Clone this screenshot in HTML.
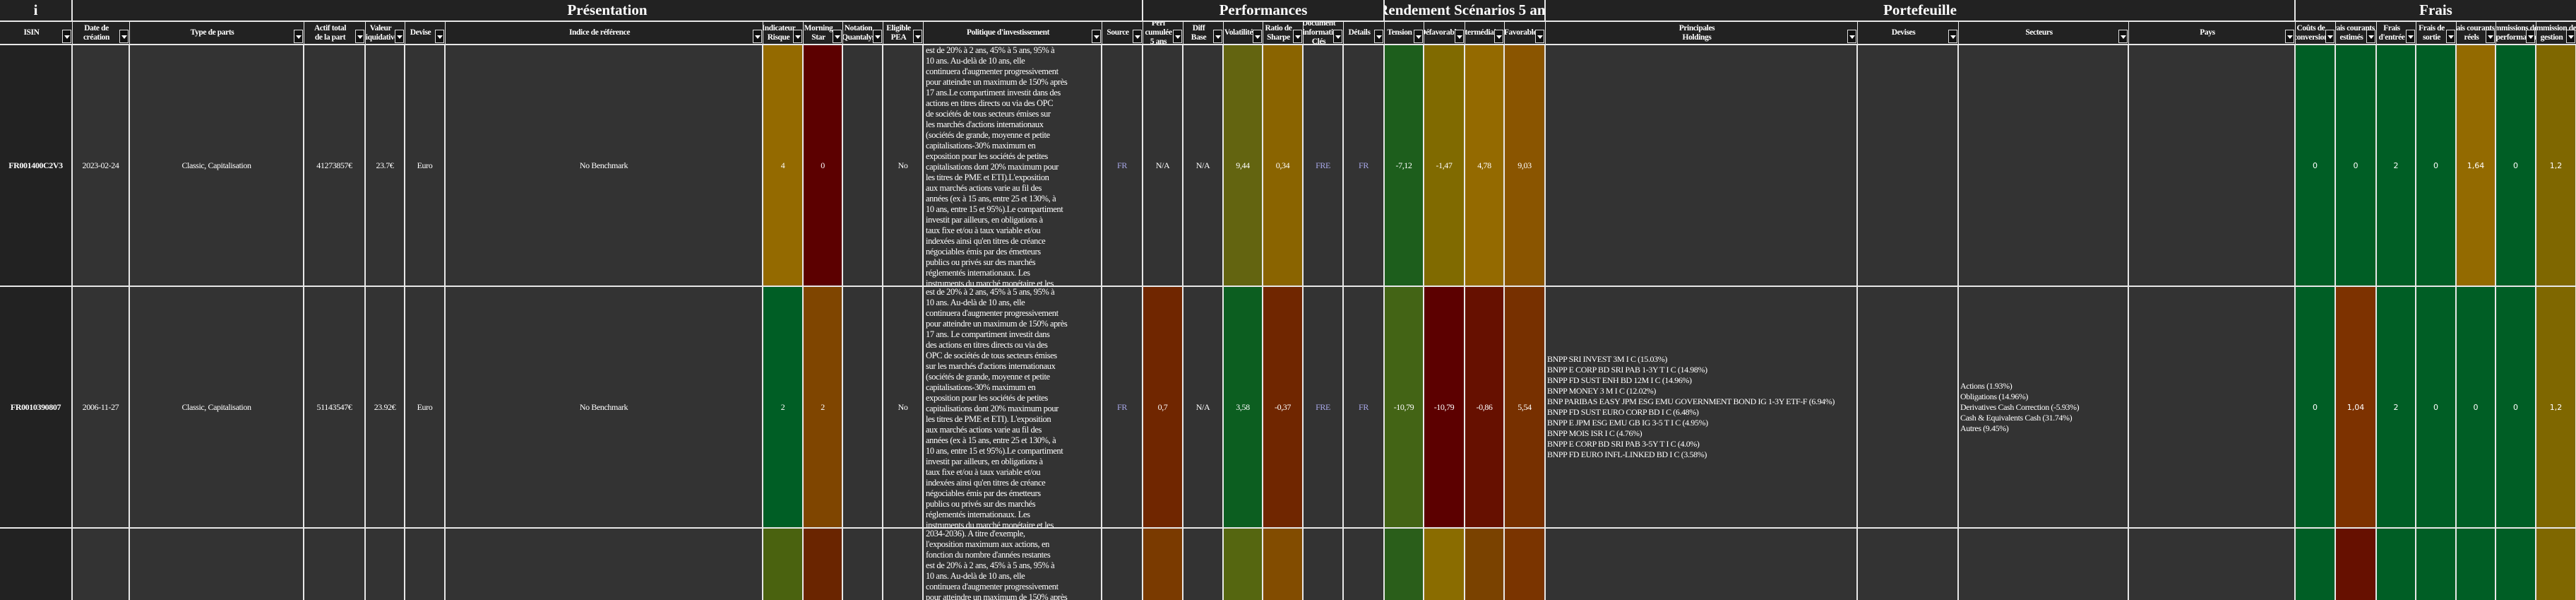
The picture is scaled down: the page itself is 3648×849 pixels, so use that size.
<!DOCTYPE html>
<html><head><meta charset="utf-8"><style>
html,body{margin:0;padding:0;background:#e8e8e8;width:3648px;height:849px;overflow:hidden}
#grid{position:relative;width:3648px;height:849px;background:#e8e8e8;font-family:"Liberation Serif",serif;color:#fff}
.c{position:absolute;box-sizing:border-box;overflow:hidden;display:flex;align-items:center;justify-content:center;text-align:center;font-size:12px;letter-spacing:-0.4px}
.g{font-size:21px;font-weight:bold;background:#222;letter-spacing:0;white-space:nowrap}
.h{background:#222;font-weight:bold;font-size:11.5px;line-height:13px;padding:0 14px 0 1px}
.dd{position:absolute;right:1px;bottom:1px;width:13px;height:19px;background:#111;border:1px solid #ddd;box-sizing:border-box}
.dd:after{content:"";position:absolute;left:2px;top:7px;border-left:4px solid transparent;border-right:4px solid transparent;border-top:5px solid #fff}
.pol{display:block;text-align:left;white-space:pre;line-height:15px;padding-left:3px;font-size:12.5px}
.list{display:flex;justify-content:flex-start;text-align:left;white-space:pre;line-height:15px;padding-left:2px}
.sans{font-family:"DejaVu Sans",sans-serif;font-size:11px;letter-spacing:0}
.lav{color:#a8a8e8}
</style></head><body>
<div id="grid"></div>
<script>
const edges=[0,102,183,430,517,573,630,1080,1137,1193,1250,1307,1560,1618,1675,1732,1788,1845,1902,1960,2016,2074,2130,2188,2630,2773,3014,3250,3307,3365,3421,3478,3534,3591,3648];
const groups=[["i",0,1],["Présentation",1,13],["Performances",13,19],["Rendement Scénarios 5 ans",19,23],["Portefeuille",23,27],["Frais",27,34]];
const headers=["ISIN","Date de\ncréation","Type de parts","Actif total\nde la part","Valeur\nliquidative","Devise","Indice de référence","Indicateur\nRisque","Morning\nStar","Notation\nQuantalys","Eligible\nPEA","Politique d'investissement","Source","Perf\ncumulée\n5 ans","Diff\nBase","Volatilité","Ratio de\nSharpe","Document\nd'information\nClés","Détails","Tension","Défavorable","Intermédiaire","Favorable","Principales\nHoldings","Devises","Secteurs","Pays","Coûts de\nconversion","Frais courants\nestimés","Frais\nd'entrée","Frais de\nsortie","Frais courants\nréels","Commissions de\nsurperformance","Commission de\ngestion"];
const rowTops=[64,406,748];
const rowBottoms=[404,746,849];
const pol1="est de 20% à 2 ans, 45% à 5 ans, 95% à\n10 ans. Au-delà de 10 ans, elle\ncontinuera d'augmenter progressivement\npour atteindre un maximum de 150% après\n17 ans.Le compartiment investit dans des\nactions en titres directs ou via des OPC\nde sociétés de tous secteurs émises sur\nles marchés d'actions internationaux\n(sociétés de grande, moyenne et petite\ncapitalisations-30% maximum en\nexposition pour les sociétés de petites\ncapitalisations dont 20% maximum pour\nles titres de PME et ETI).L'exposition\naux marchés actions varie au fil des\nannées (ex à 15 ans, entre 25 et 130%, à\n10 ans, entre 15 et 95%).Le compartiment\ninvestit par ailleurs, en obligations à\ntaux fixe et/ou à taux variable et/ou\nindexées ainsi qu'en titres de créance\nnégociables émis par des émetteurs\npublics ou privés sur des marchés\nréglementés internationaux. Les\ninstruments du marché monétaire et les";
const pol2="est de 20% à 2 ans, 45% à 5 ans, 95% à\n10 ans. Au-delà de 10 ans, elle\ncontinuera d'augmenter progressivement\npour atteindre un maximum de 150% après\n17 ans. Le compartiment investit dans\ndes actions en titres directs ou via des\nOPC de sociétés de tous secteurs émises\nsur les marchés d'actions internationaux\n(sociétés de grande, moyenne et petite\ncapitalisations-30% maximum en\nexposition pour les sociétés de petites\ncapitalisations dont 20% maximum pour\nles titres de PME et ETI). L'exposition\naux marchés actions varie au fil des\nannées (ex à 15 ans, entre 25 et 130%, à\n10 ans, entre 15 et 95%).Le compartiment\ninvestit par ailleurs, en obligations à\ntaux fixe et/ou à taux variable et/ou\nindexées ainsi qu'en titres de créance\nnégociables émis par des émetteurs\npublics ou privés sur des marchés\nréglementés internationaux. Les\ninstruments du marché monétaire et les";
const pol3="2034-2036). A titre d'exemple,\nl'exposition maximum aux actions, en\nfonction du nombre d'années restantes\nest de 20% à 2 ans, 45% à 5 ans, 95% à\n10 ans. Au-delà de 10 ans, elle\ncontinuera d'augmenter progressivement\npour atteindre un maximum de 150% après";
const holdings2="BNPP SRI INVEST 3M I C (15.03%)\nBNPP E CORP BD SRI PAB 1-3Y T I C (14.98%)\nBNPP FD SUST ENH BD 12M I C (14.96%)\nBNPP MONEY 3 M I C (12.02%)\nBNP PARIBAS EASY JPM ESG EMU GOVERNMENT BOND IG 1-3Y ETF-F (6.94%)\nBNPP FD SUST EURO CORP BD I C (6.48%)\nBNPP E JPM ESG EMU GB IG 3-5 T I C (4.95%)\nBNPP MOIS ISR I C (4.76%)\nBNPP E CORP BD SRI PAB 3-5Y T I C (4.0%)\nBNPP FD EURO INFL-LINKED BD I C (3.58%)";
const secteurs2="Actions (1.93%)\nObligations (14.96%)\nDerivatives Cash Correction (-5.93%)\nCash & Equivalents Cash (31.74%)\nAutres (9.45%)";
const row1=["FR001400C2V3","2023-02-24","Classic, Capitalisation","41273857€","23.7€","Euro","No Benchmark","4","0","","No",pol1,"FR","N/A","N/A","9,44","0,34","FRE","FR","-7,12","-1,47","4,78","9,03","","","","","0","0","2","0","1,64","0","1,2"];
const row2=["FR0010390807","2006-11-27","Classic, Capitalisation","51143547€","23.92€","Euro","No Benchmark","2","2","","No",pol2,"FR","0,7","N/A","3,58","-0,37","FRE","FR","-10,79","-10,79","-0,86","5,54",holdings2,"",secteurs2,"","0","1,04","2","0","0","0","1,2"];
const row3=["","","","","","","","","","","",pol3,"","","","","","","","","","","","","","","","","","","","","",""];
const colors1={7:"#946a00",8:"#5c0000",15:"#636410",16:"#8a6400",19:"#1d5e1c",20:"#806a00",21:"#946a00",22:"#8a5500",27:"#005e25",28:"#005e25",29:"#005e25",30:"#005e25",31:"#936a00",32:"#005e25",33:"#7f6700"};
const colors2={7:"#005e25",8:"#7f4500",13:"#702600",15:"#0c5e20",16:"#702600",19:"#436415",20:"#5c0000",21:"#661000",22:"#773000",27:"#005e25",28:"#7d3200",29:"#005e25",30:"#005e25",31:"#005e25",32:"#005e25",33:"#7f6700"};
const colors3={7:"#4a620f",8:"#6a2500",13:"#7a3a00",15:"#556610",16:"#824c00",19:"#2a5e1a",20:"#8a6c00",21:"#7a4200",22:"#7a3400",27:"#005e25",28:"#661000",29:"#005e25",30:"#005e25",31:"#005e25",32:"#005e25",33:"#7f6700"};
const rows=[row1,row2,row3];
const rowColors=[colors1,colors2,colors3];
const colNames=["isin","date-creation","type-parts","actif-total","valeur-liquidative","devise","indice-reference","indicateur-risque","morning-star","notation-quantalys","eligible-pea","politique-investissement","source","perf-cumulee","diff-base","volatilite","ratio-sharpe","document-info","details","tension","defavorable","intermediaire","favorable","principales-holdings","devises","secteurs","pays","couts-conversion","frais-courants-estimes","frais-entree","frais-sortie","frais-courants-reels","commissions-surperformance","commission-gestion"];

const grid=document.getElementById('grid');
function box(x,y,w,h,cls){const d=document.createElement('div');d.className='c '+cls;d.style.left=x+'px';d.style.top=y+'px';d.style.width=w+'px';d.style.height=h+'px';grid.appendChild(d);return d;}
groups.forEach(g=>{
  const x=edges[g[1]]+(g[1]?1:0), w=edges[g[2]]-x-(g[2]<34?1:0);
  const d=box(x,0,w,29,'g');
  d.textContent=g[0];
  
  
});
headers.forEach((t,i)=>{
  const x=edges[i]+(i?1:0), w=edges[i+1]-x;
  const d=box(x,31,w,31,'h');
  d.style.whiteSpace='pre';
  d.textContent=t;
  
  
  const dd=document.createElement('div');dd.className='dd';
  
  
  d.appendChild(dd);
});
rows.forEach((r,ri)=>{
  r.forEach((v,i)=>{
    const x=edges[i]+(i?1:0), w=edges[i+1]-x-1;
    const y=rowTops[ri], h=rowBottoms[ri]-y;
    let cls='';
    if(i===11) cls='pol';
    else if(i===23||i===25) cls='list';
    else if(i>=27) cls='sans';
    if(i===12||i===17||i===18) cls+=' lav';
    const d=box(x,y,w,h,cls);
    d.style.background=i===0?'#222':(rowColors[ri][i]||'#333');
    d.textContent=v;
    if(i===0){d.style.fontWeight='bold';}
    
    
  });
});
</script>
</body></html>
